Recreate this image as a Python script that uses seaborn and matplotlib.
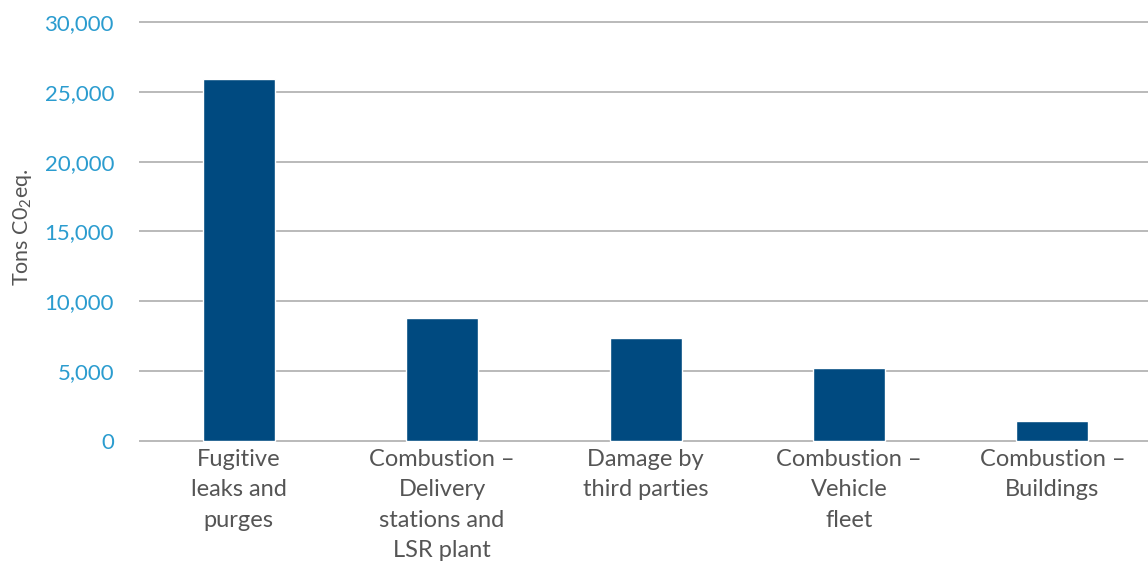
import matplotlib
matplotlib.use("Agg")
import matplotlib.pyplot as plt
import seaborn as sns
import pandas as pd
from matplotlib.ticker import FuncFormatter

categories = [
    "Fugitive\nleaks and\npurges",
    "Combustion –\nDelivery\nstations and\nLSR plant",
    "Damage by\nthird parties",
    "Combustion –\nVehicle\nfleet",
    "Combustion –\nBuildings",
]
emissions = [25900, 8800, 7400, 5200, 1450]
y_ticks = [0, 5000, 10000, 15000, 20000, 25000, 30000]

sns.set_theme(style="white")
plt.rcParams["font.family"] = ["Lato", "DejaVu Sans"]
plt.rcParams["mathtext.fontset"] = "custom"
plt.rcParams["mathtext.rm"] = "Lato"
plt.rcParams["mathtext.it"] = "Lato"

df = pd.DataFrame({"source": categories, "tons": emissions})

fig = plt.figure(figsize=(11.48, 5.69), dpi=100)
ax = fig.add_axes([139 / 1148, 1 - 442 / 569, 1 - 139 / 1148, (442 - 21) / 569])

sns.barplot(data=df, x="source", y="tons", color="#004a80", width=0.354,
            saturation=1, ax=ax, zorder=3)

ax.set_xlim(-0.49, 4.47)
ax.set_ylim(-75, 30075)
ax.set_yticks(y_ticks)
ax.yaxis.set_major_formatter(FuncFormatter(lambda v, p: f"{int(v):,}"))
ax.grid(axis="y", color="#b4b4b4", linewidth=1.3, zorder=0)
ax.grid(axis="x", visible=False)
for s in ax.spines.values():
    s.set_visible(False)

ax.tick_params(axis="y", length=0, pad=18, labelsize=16, labelcolor="#2b9ccf")
ax.tick_params(axis="x", length=0, pad=5, labelsize=17, labelcolor="#555555")
for lbl in ax.get_xticklabels():
    lbl.set_linespacing(1.55)

ax.set_xlabel("")
ax.set_ylabel("Tons C0$_2$eq.", fontsize=15.5, color="#555555")
ax.yaxis.set_label_coords(-0.104, 0.51)

fig.savefig("out.png", dpi=100, facecolor="white")
